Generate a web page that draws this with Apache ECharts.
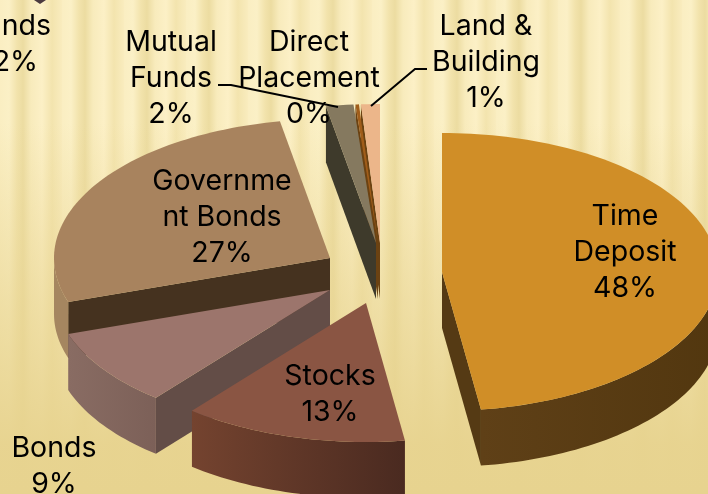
<!DOCTYPE html>
<html>
<head>
<meta charset="utf-8">
<style>
html,body{margin:0;padding:0;width:708px;height:494px;overflow:hidden}
#bg{position:absolute;left:0;top:0;width:708px;height:494px;
 background:
  linear-gradient(to bottom,rgba(231,211,143,0) 0%,rgba(231,211,143,0) 25%,rgba(231,211,143,.55) 60%,rgba(231,211,143,.97) 90%,rgba(231,211,143,1) 100%),
  repeating-linear-gradient(to right,#faeec2 0px,#fbf0c6 9px,#f2e3ac 17px,#ecdca1 23px,#f8ebbc 31px,#fcf0c6 42px,#f3e4ae 52px,#f9ecbe 62px);
}
#c{position:absolute;left:0;top:0;width:708px;height:494px}
</style>
</head>
<body>
<div id="bg"></div>
<div id="c"></div>
<script src="https://cdn.jsdelivr.net/npm/echarts@6/dist/echarts.min.js"></script>
<script>
const categories = ['Time Deposit','Stocks','Bonds','Government Bonds','Mutual Funds','Direct Placement','Land & Building'];
const values = [47.7, 13.1, 9, 27.2, 1.6, 0.2, 1.1];
const labelLines = [['Time','Deposit'],['Stocks'],['Bonds'],['Governme','nt Bonds'],['Mutual','Funds'],['Direct','Placement'],['Land &','Building']];
const croppedLabel = ['nds','2%'];

const radiusX = 276, radiusY = 139, depth = 56;
const centers = [[442,272],[366,303],[330,290],[330,258],[376,243],[378,243],[380,243]];
const topColors = ['#d08e27','#8a5543','#9c756c','#a8835e','#85795f','#a05d1a','#ecb68a'];
const radialWall = ['#553a14','#4a2a20','#634d47','#45321f','#3e3a2b','#6b4212','#6b4212'];
const rimWall = [['#5f4017','#52370f'],['#74432f','#4a2a20'],['#896c63','#7c6058'],['#a58660','#a58660'],['#3e3a2b','#3e3a2b'],['#6b4212','#6b4212'],['#6b4212','#6b4212']];
const paintOrder = [3,6,5,4,2,1,0];
const labelCenters = [[625,216],[330,376],[54,448],[222,181],[171,42],[309,42],[486,26]];
const leaders = [[],[],[],[],[[218,85],[231,85],[338,107]],[],[[427,69],[415,69],[371,106]]];

const total = values.reduce((a,b)=>a+b,0);
const starts = []; let acc = 0;
values.forEach(v=>{starts.push(acc/total*360); acc+=v;});
function pt(c,deg,dy){const r=deg*Math.PI/180;return [c[0]+radiusX*Math.sin(r),c[1]-radiusY*Math.cos(r)+(dy||0)];}
function arcPts(c,a0,a1,dy){const out=[];const n=Math.max(2,Math.ceil(Math.abs(a1-a0)/1.5));for(let i=0;i<=n;i++)out.push(pt(c,a0+(a1-a0)*i/n,dy));return out;}
function poly(points,fill){return {type:'polygon',shape:{points},style:{fill}};}
function sliceShapes(i){
  const c=centers[i], a0=starts[i], a1=a0+values[i]/total*360, kids=[];
  const wall=(ang)=>{const p=pt(c,ang);kids.push(poly([c,p,[p[0],p[1]+depth],[c[0],c[1]+depth]],radialWall[i]));};
  if(a0>180) wall(a0);
  if(a1<180) wall(a1);
  const r0=Math.max(a0,90), r1=Math.min(a1,270);
  if(r1>r0){
    const up=arcPts(c,r0,r1,0), down=arcPts(c,r1,r0,depth);
    const xs=up.map(p=>p[0]);
    const lo=Math.min(...xs), hi=Math.max(...xs);
    kids.push(poly(up.concat(down),new echarts.graphic.LinearGradient(lo,0,hi,0,[
      {offset:0,color:rimWall[i][0]},{offset:1,color:rimWall[i][1]}],true)));
  }
  kids.push(poly([c].concat(arcPts(c,a0,a1,0)),topColors[i]));
  return kids;
}
const font='28.5px Inter, "Liberation Sans", Arial, sans-serif';
const lineGap=36;
function textEl(text,x,y,align){return {type:'text',style:{text,x,y,align:align||'center',verticalAlign:'middle',font,fill:'#000'}};}
function labelShapes(i){
  const [x,y]=labelCenters[i], kids=[];
  const rows=labelLines[i].concat([Math.round(values[i])+'%']);
  rows.forEach((t,k)=>kids.push(textEl(t,x,y+k*lineGap)));
  if(leaders[i].length) kids.push({type:'polyline',shape:{points:leaders[i]},style:{stroke:'#000',lineWidth:2,fill:null}});
  return kids;
}
const chart=echarts.init(document.getElementById('c'),null,{renderer:'canvas'});
chart.setOption({
  animation:false,
  backgroundColor:'transparent',
  series:[
    {type:'custom',coordinateSystem:'none',silent:true,z:2,
     data:paintOrder.map(i=>({name:categories[i],value:values[i]})),
     renderItem:(p)=>({type:'group',children:sliceShapes(paintOrder[p.dataIndex])})},
    {type:'custom',coordinateSystem:'none',silent:true,z:3,
     data:categories.map((n,i)=>({name:n,value:values[i]})),
     renderItem:(p)=>({type:'group',children:labelShapes(p.dataIndex)})}
  ],
  graphic:[
    {type:'polygon',z:1,shape:{points:[[34,0],[40,4],[46,0]]},style:{fill:'#4b3a3f'}},
    {type:'text',z:5,style:{text:croppedLabel[0],x:51,y:26,align:'right',verticalAlign:'middle',font,fill:'#000'}},
    {type:'text',z:5,style:{text:croppedLabel[1],x:38,y:62,align:'right',verticalAlign:'middle',font,fill:'#000'}}
  ]
});
</script>
</body>
</html>
